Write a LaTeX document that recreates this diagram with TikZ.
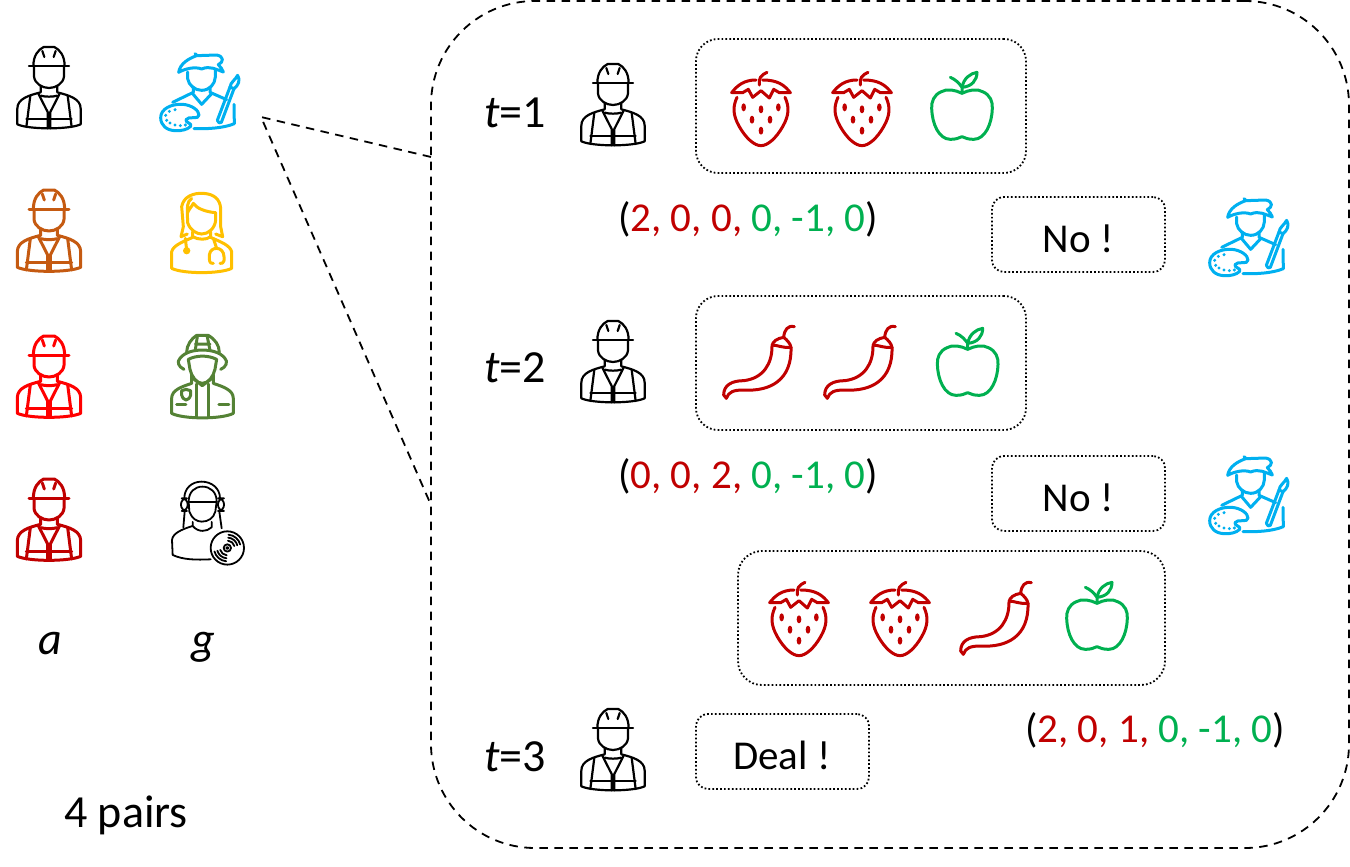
\documentclass[tikz,border=0pt]{standalone}
\usepackage{fontspec}
\setmainfont{Carlito}
\definecolor{cred}{HTML}{C00000}
\definecolor{cgreen}{HTML}{00B050}
\definecolor{cblue}{HTML}{00B0F0}
\definecolor{cyel}{HTML}{FFC000}
\definecolor{cbrown}{HTML}{C55A11}
\definecolor{cfire}{HTML}{548235}
\tikzset{
 ic/.style={line width=2.2pt,line cap=round,line join=round},
 icb/.style={line width=3pt,line cap=round,line join=round},
 icthin/.style={line width=1.8pt,line cap=round,line join=round},
 wk/.style={},
 dotbox/.style={draw=black,line width=1.8pt,dash pattern=on 1.7pt off 2.2pt,rectangle,inner sep=0pt},
 lbl/.style={font=\fontsize{41}{41}\selectfont,inner sep=0pt,text=black,anchor=base},
 lblb/.style={font=\fontsize{46}{46}\selectfont,inner sep=0pt,text=black,anchor=base},
 bigdash/.style={line width=1.8pt,dash pattern=on 8.5pt off 6.5pt},
 worker/.pic={\begin{scope}[ic,wk]
  \draw (-60,-62)--(60,-62);
  \draw (-47,-62) .. controls (-47,-95) and (-32,-112) .. (-16,-120) -- (16,-120) .. controls (32,-112) and (47,-95) .. (47,-62);
  \draw (-20,-108)--(-14,-90) (20,-108)--(14,-90);
  \draw (-45,-62)--(-45,-32) .. controls (-43,-10) and (-20,3) .. (0,3) .. controls (20,3) and (43,-10) .. (45,-32)--(45,-62);
  \draw (-25,-3)--(-25,16) .. controls (-60,25) and (-95,35) .. (-95,65)--(-95,112) .. controls (-60,128) and (60,128) .. (95,112)--(95,65) .. controls (95,35) and (60,25) .. (25,16)--(25,-3);
  \draw (-32,20)--(-4,75)--(-4,124) (32,20)--(4,75)--(4,124);
  \draw (-25,26) .. controls (-10,30) and (10,30) .. (25,26);
  \draw (-56,26)--(-68,120) (56,26)--(68,120);
  \draw (-68,96)--(-4,96) (4,96)--(68,96);
 \end{scope}},
 artist/.pic={\begin{scope}[shift={(-600,-170)},icb]
  \draw (536,126) .. controls (540,100) and (565,85) .. (590,76) -- (650,74) .. controls (672,78) and (672,95) .. (655,103) .. controls (662,110) and (668,118) .. (670,125) .. controls (650,118) and (630,105) .. (605,116) .. controls (585,108) and (555,115) .. (536,126);
  \draw (585,70)--(592,76);
  \draw (563,125)--(563,145) .. controls (566,165) and (585,180) .. (605,180) .. controls (628,180) and (645,162) .. (646,140)--(646,118);
  \draw (580,170)--(580,186)--(518,216);
  \draw (578,190)--(605,222)--(635,190);
  \draw (630,170)--(630,186)--(680,208);
  \draw (702,222)--(703,280) .. controls (670,294) and (620,296) .. (582,295);
  \draw (482,262) .. controls (482,235) and (515,220) .. (548,222) .. controls (575,224) and (597,240) .. (597,254) .. controls (597,270) and (565,255) .. (558,268) .. controls (555,278) and (578,278) .. (572,288) .. controls (562,298) and (545,302) .. (525,301) .. controls (500,300) and (482,285) .. (482,262);
  \fill (525,238) circle (5) (508,243) circle (5) (497,255) circle (5) (500,270) circle (5) (510,278) circle (5) (525,284) circle (5) (541,286) circle (5) (556,284) circle (5);
  \draw (652,270)--(690,170)--(702,175)--(664,276) .. controls (660,280) and (654,278) .. (652,270);
  \draw (690,170) .. controls (692,155) and (705,150) .. (713,135) .. controls (722,150) and (715,165) .. (702,175);
 \end{scope}},
 doctor/.pic={\begin{scope}[shift={(-600,-605)},icb]
  \draw (562,612) -- (543,620) -- (550,590) -- (545,530) .. controls (550,500) and (580,488) .. (610,490) .. controls (645,492) and (660,510) .. (662,535) -- (662,590) -- (668,620) -- (647,612);
  \draw (575,505) .. controls (560,515) and (562,535) .. (562,550) -- (563,578) .. controls (570,600) and (590,612) .. (605,612) .. controls (625,612) and (645,595) .. (647,570) -- (647,548) .. controls (615,545) and (590,535) .. (580,520) .. controls (575,530) and (565,540) .. (562,550);
  \draw (578,605)--(578,620) .. controls (595,630) and (620,630) .. (632,620)--(632,605);
  \draw (515,715)--(515,665) .. controls (520,645) and (550,635) .. (578,622);
  \draw (632,622) .. controls (660,635) and (690,645) .. (695,665)--(695,715) .. controls (660,732) and (550,732) .. (515,715);
  \draw (556,625)--(560,660);
  \fill (560,662) circle (11);
  \draw (640,625)--(650,655);
  \draw (640,700) .. controls (628,700) and (628,695) .. (628,675) .. controls (630,660) and (640,655) .. (650,655) .. controls (662,655) and (672,665) .. (672,680) -- (672,692) .. controls (672,700) and (665,700) .. (660,700);
 \end{scope}},
 fire/.pic={\begin{scope}[shift={(-607,-170)},icb]
  \draw (560,97) .. controls (560,75) and (575,55) .. (590,46) -- (625,46) .. controls (645,58) and (658,75) .. (658,97);
  \draw (592,50)--(586,90) (622,50)--(630,90) (586,72)--(630,72);
  \draw (552,148) .. controls (535,140) and (530,125) .. (540,115) .. controls (555,95) and (585,90) .. (607,90) .. controls (630,90) and (660,95) .. (675,115) .. controls (685,125) and (678,142) .. (662,148);
  \draw (565,118) .. controls (590,105) and (625,105) .. (650,118);
  \draw (565,118)--(570,148) .. controls (575,170) and (590,190) .. (607,190) .. controls (625,190) and (640,170) .. (645,148)--(650,118);
  \draw (575,165)--(575,190) .. controls (545,200) and (515,210) .. (515,235)--(515,280) .. controls (550,298) and (665,298) .. (700,280)--(700,235) .. controls (700,210) and (670,200) .. (640,190)--(640,165);
  \draw (575,172)--(607,197)--(640,172);
  \draw (590,192)--(590,290) (627,192)--(627,290);
  \draw (545,212)--(558,208)--(572,212)--(572,225) .. controls (570,235) and (562,240) .. (558,240) .. controls (552,238) and (545,232) .. (545,225)--cycle;
  \draw (530,253)--(558,253) (657,253)--(687,253);
 \end{scope}},
 dj/.pic={\begin{scope}[shift={(-600,-610)},icthin]
  \draw (553,535) .. controls (553,505) and (575,485) .. (605,485) .. controls (635,485) and (660,505) .. (660,535);
  \draw (566,545) .. controls (566,515) and (585,500) .. (607,500) .. controls (630,500) and (650,515) .. (650,545);
  \draw (566,545)--(650,545);
  \draw (566,545)--(568,575) .. controls (575,595) and (590,605) .. (605,605) .. controls (625,605) and (640,595) .. (646,575)--(650,545);
  \draw[rounded corners=6] (543,535) rectangle (563,573);
  \draw[rounded corners=6] (654,535) rectangle (672,573);
  \draw (554,575)--(550,622) (658,575)--(665,625);
  \draw (578,606)--(578,618) .. controls (595,638) and (620,636) .. (635,622)--(635,606);
  \draw (578,618) .. controls (545,628) and (518,640) .. (516,660)--(518,705) .. controls (550,720) and (590,720) .. (632,718);
  \draw[fill=white] (682,684) circle (50);
  \draw (682,684) circle (11) (682,684) circle (3);
  \foreach \r in {22,31,40}{
   \draw (682,684)++(-15:\r) arc (-15:-85:\r);
   \draw (682,684)++(165:\r) arc (165:95:\r);
  }
 \end{scope}},
 straw/.pic={\begin{scope}[icb,color=cred]
  \draw (-5,-75) .. controls (-8,-95) and (0,-105) .. (18,-113);
  \draw (-88,-52) .. controls (-70,-75) and (-50,-90) .. (-15,-90) (5,-90) .. controls (50,-90) and (70,-75) .. (88,-52);
  \draw (-88,-52)--(-55,-52)--(-38,-62)--(-25,-38)--(0,-58)--(25,-36)--(38,-62)--(55,-52)--(88,-52);
  \draw (-72,-38) .. controls (-85,-10) and (-85,15) .. (-65,50) .. controls (-45,85) and (-20,107) .. (0,107) .. controls (20,107) and (45,85) .. (65,50) .. controls (85,15) and (85,-10) .. (72,-38);
  \fill (-52,-8) ellipse (7 and 12) (0,-2) ellipse (7 and 12) (52,-8) ellipse (7 and 12) (-27,29) ellipse (7 and 12) (27,29) ellipse (7 and 12) (0,62) ellipse (7 and 12);
 \end{scope}},
 chili/.pic={\begin{scope}[icb,color=cred]
  \draw (112,-100) .. controls (92,-105) and (82,-90) .. (80,-68);
  \draw (45,-40) .. controls (45,-55) and (60,-65) .. (80,-68) .. controls (90,-60) and (100,-50) .. (102,-38);
  \draw (45,-45) .. controls (60,-45) and (80,-35) .. (102,-38);
  \draw (45,-40) .. controls (45,10) and (20,55) .. (-40,62) .. controls (-75,62) and (-100,75) .. (-100,105) -- (-92,115) .. controls (-85,95) and (-70,90) .. (-40,90) .. controls (40,95) and (105,60) .. (102,-38);
 \end{scope}},
 apple/.pic={\begin{scope}[icb,color=cgreen]
  \draw (0,-50) .. controls (-20,-60) and (-45,-65) .. (-62,-55) .. controls (-85,-45) and (-92,-25) .. (-91,-5) .. controls (-90,40) and (-70,88) .. (-35,88) .. controls (-20,88) and (-10,85) .. (0,80) .. controls (10,85) and (20,88) .. (35,88) .. controls (70,88) and (90,40) .. (91,-5) .. controls (92,-25) and (85,-45) .. (62,-55) .. controls (45,-65) and (20,-60) .. (0,-50);
  \draw (0,-50)--(0,-68) .. controls (-8,-80) and (-20,-92) .. (-35,-98);
  \draw (0,-68) .. controls (5,-95) and (25,-110) .. (45,-113) .. controls (45,-90) and (30,-70) .. (0,-68);
 \end{scope}}
}
\newcommand{\tup}[3]{{\color{black}(}{\color{cred}#1, #2, #3,} {\color{cgreen}0, -1, 0}{\color{black})}}
\begin{document}
\begin{tikzpicture}[x=1pt,y=-1pt]
\useasboundingbox (0,0) rectangle (1350,867);
% callout
\node[draw=black,bigdash,rectangle,rounded corners=104pt,minimum width=918pt,minimum height=847pt,inner sep=0pt] (call) at (890,424.5) {};
\coordinate (tip) at (261,117);
\coordinate (ca) at (431,157);
\coordinate (cb) at (431,505);
\draw[bigdash] (ca)--(tip)--(cb);
% left column
\path (49,87) pic[color=black,scale=1/3] {worker};
\path (49,230) pic[color=cbrown,scale=1/3,wk/.style={line width=3pt}] {worker};
\path (49,376) pic[color=red,scale=1/3,wk/.style={line width=3pt}] {worker};
\path (49,519) pic[color=cred,scale=1/3,wk/.style={line width=3pt}] {worker};
\path (200,87) pic[color=cblue,scale=1/3] {artist};
\path (200,231.7) pic[color=cyel,scale=1/3] {doctor};
\path (202.3,376.7) pic[color=cfire,scale=1/3] {fire};
\path (200,523.3) pic[color=black,scale=1/3] {dj};
\node[lblb] (la) at (50,654) {\itshape a};
\node[lblb] (lg) at (203,654) {\itshape g};
\node[lblb] (pairs) at (126,827) {4 pairs};
% t rows
\node[lblb] (t1) at (515,127) {\textit{t}=1};
\node[lblb] (t2) at (515,382) {\textit{t}=2};
\node[lblb] (t3) at (515,771) {\textit{t}=3};
\path (613,104) pic[color=black,scale=1/3] {worker};
\path (613,361) pic[color=black,scale=1/3] {worker};
\path (613,749) pic[color=black,scale=1/3] {worker};
\path (1249,232) pic[color=cblue,scale=1/3] {artist};
\path (1249,490) pic[color=cblue,scale=1/3] {artist};
% boxes
\node[dotbox,rounded corners=22pt,minimum width=330pt,minimum height=134pt] (b1) at (861,106) {};
\node[dotbox,rounded corners=22pt,minimum width=330pt,minimum height=134pt] (b2) at (861,363) {};
\node[dotbox,rounded corners=24pt,minimum width=427pt,minimum height=134pt] (b3) at (951.5,618) {};
\node[dotbox,rounded corners=12pt,minimum width=173pt,minimum height=75pt] (no1) at (1078.5,234.5) {};
\node[dotbox,rounded corners=12pt,minimum width=173pt,minimum height=75pt] (no2) at (1078.5,493.5) {};
\node[dotbox,rounded corners=12pt,minimum width=173pt,minimum height=75pt] (deal) at (782.5,751.5) {};
\node[lbl] at (1078,252) {No !};
\node[lbl] at (1078,511) {No !};
\node[lbl] at (782,769) {Deal !};
% fruits
\path (761,110) pic[scale=1/3] {straw};
\path (862,110) pic[scale=1/3] {straw};
\path (962,110) pic[scale=1/3] {apple};
\path (757,360) pic[scale=1/3] {chili};
\path (858,360) pic[scale=1/3] {chili};
\path (967.7,366) pic[scale=1/3] {apple};
\path (799,620) pic[scale=1/3] {straw};
\path (900,620) pic[scale=1/3] {straw};
\path (994,616) pic[scale=1/3] {chili};
\path (1097,620) pic[scale=1/3] {apple};
% tuples
\node[lbl] (v1) at (748,231) {\tup{2}{0}{0}};
\node[lbl] (v2) at (748,488) {\tup{0}{0}{2}};
\node[lbl] (v3) at (1155,742) {\tup{2}{0}{1}};
\end{tikzpicture}
\end{document}
